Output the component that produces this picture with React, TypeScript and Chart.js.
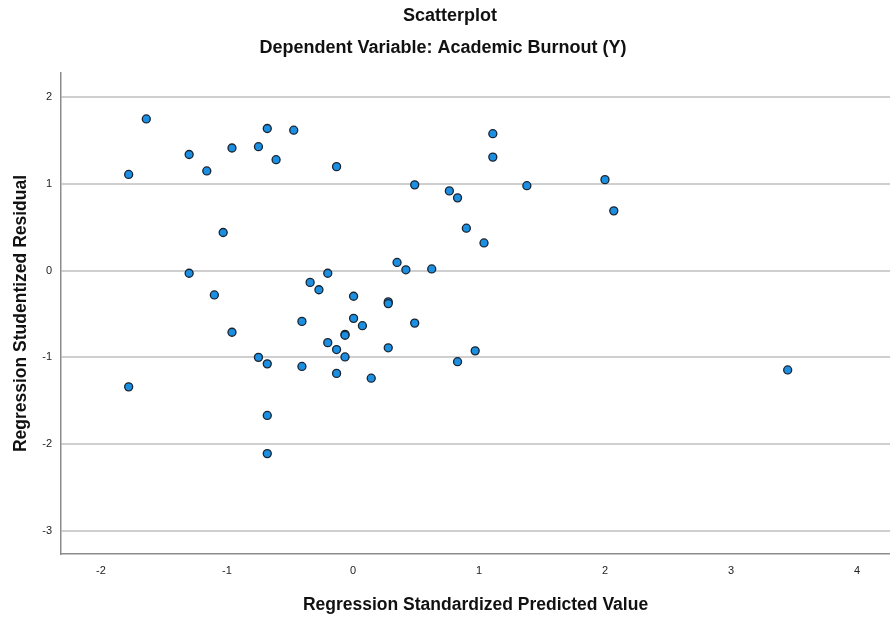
import React, { useEffect, useRef } from "react";
import { Chart, registerables } from "chart.js";

Chart.register(...registerables);

const predicted: number[] = [
  -1.78, -1.64, -1.3, -1.16, -0.96, -0.75, -0.68, -0.61, -0.47, -0.13,
  1.11, 1.11, 0.49, 0.765, 0.83, 1.38, 2.0, 2.07, 0.9, 1.04,
  -1.03, 0.35, 0.42, 0.625, -1.3, -1.1, -0.34, -0.27, -0.2, 0.005,
  0.28, 0.28, -0.96, -0.405, 0.005, 0.075, -0.063, -0.063, 0.49, -0.75,
  -0.68, -0.405, -0.2, -0.13, -0.063, -0.13, 0.145, 0.28, 0.83, 0.97,
  3.45, -1.78, -0.68, -0.68,
];
const residual: number[] = [
  1.11, 1.75, 1.34, 1.15, 1.415, 1.43, 1.64, 1.28, 1.62, 1.2,
  1.58, 1.31, 0.99, 0.92, 0.84, 0.98, 1.05, 0.69, 0.49, 0.32,
  0.44, 0.095, 0.01, 0.02, -0.03, -0.28, -0.135, -0.22, -0.03, -0.295,
  -0.36, -0.38, -0.71, -0.585, -0.55, -0.635, -0.735, -0.745, -0.605, -1.0,
  -1.075, -1.105, -0.83, -0.91, -0.995, -1.185, -1.24, -0.89, -1.05, -0.925,
  -1.145, -1.34, -1.67, -2.11,
];
const xTicks: number[] = [-2, -1, 0, 1, 2, 3, 4];
const yTicks: number[] = [-3, -2, -1, 0, 1, 2];
const titleText = "Scatterplot";
const subtitleText = "Dependent Variable: Academic Burnout (Y)";
const xTitle = "Regression Standardized Predicted Value";
const yTitle = "Regression Studentized Residual";

const FONT = "'Liberation Sans', Arial, sans-serif";

export default function App() {
  const ref = useRef<HTMLCanvasElement | null>(null);
  useEffect(() => {
    document.body.style.margin = "0";
    const canvas = ref.current;
    if (!canvas) return;
    const chart = new Chart(canvas, {
      type: "scatter",
      data: {
        datasets: [
          {
            data: predicted.map((x, i) => ({ x, y: residual[i] })),
            backgroundColor: "#1b8fe2",
            borderColor: "#1a2430",
            borderWidth: 1.3,
            pointRadius: 4,
          },
        ],
      },
      options: {
        animation: false,
        responsive: false,
        maintainAspectRatio: false,
        layout: { autoPadding: false, padding: { top: 73, right: 0, left: 0, bottom: 0 } },
        plugins: {
          legend: { display: false },
          tooltip: { enabled: false },
          title: { display: false },
        },
        scales: {
          x: {
            type: "linear",
            min: -2.317,
            max: 4.262,
            afterBuildTicks: (s: any) => {
              s.ticks = xTicks.map((v) => ({ value: v }));
            },
            afterFit: (s: any) => {
              s.height = 65;
              s.paddingLeft = 0;
              s.paddingRight = 0;
            },
            grid: { display: false, drawTicks: false },
            border: { display: true, color: "#8c8c8c", width: 1.5 },
            ticks: {
              padding: 10,
              color: "#222",
              font: { family: FONT, size: 11 },
              maxRotation: 0,
            },
            title: {
              display: true,
              text: xTitle,
              color: "#111",
              font: { family: FONT, size: 17.5, weight: "bold" },
              padding: { top: 0, bottom: 3 },
            },
          },
          y: {
            type: "linear",
            min: -3.268,
            max: 2.28,
            afterBuildTicks: (s: any) => {
              s.ticks = yTicks.map((v) => ({ value: v }));
            },
            afterFit: (s: any) => {
              s.width = 61;
              s.paddingTop = 0;
              s.paddingBottom = 0;
            },
            grid: { display: true, drawTicks: false, color: "#cfcfcf", lineWidth: 2 },
            border: { display: true, color: "#8c8c8c", width: 1.5 },
            ticks: {
              padding: 9,
              color: "#222",
              font: { family: FONT, size: 11 },
            },
            title: {
              display: true,
              text: yTitle,
              color: "#111",
              font: { family: FONT, size: 17.5, weight: "bold" },
              padding: { top: 11, bottom: 0 },
            },
          },
        },
      },
      plugins: [
        {
          id: "titles",
          afterDraw: (c: any) => {
            const ctx = c.ctx;
            ctx.save();
            ctx.fillStyle = "#111";
            ctx.textAlign = "center";
            ctx.textBaseline = "middle";
            ctx.font = `bold 18px ${FONT}`;
            ctx.fillText(titleText, 450, 16);
            ctx.fillText(subtitleText, 443, 48);
            ctx.restore();
          },
        },
      ],
    });
    return () => chart.destroy();
  }, []);
  return (
    <div style={{ position: "absolute", left: 0, top: 0, width: 890, height: 619 }}>
      <canvas ref={ref} width={890} height={619} style={{ width: 890, height: 619 }} />
    </div>
  );
}
